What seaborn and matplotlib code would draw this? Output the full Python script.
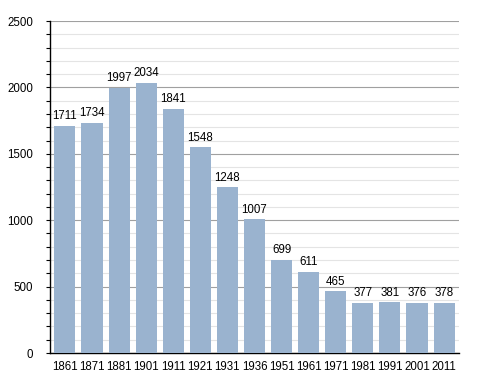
import pandas as pd
import numpy as np
import seaborn as sns
import matplotlib.pyplot as plt
from matplotlib.ticker import MultipleLocator

# datos
years = ['1861', '1871', '1881', '1901', '1911', '1921', '1931', '1936',
         '1951', '1961', '1971', '1981', '1991', '2001', '2011']
population = [1711, 1734, 1997, 2034, 1841, 1548, 1248, 1007,
              699, 611, 465, 377, 381, 376, 378]

df = pd.DataFrame({'year': years, 'pop': population})

sns.set_style('white')
plt.rcParams['font.family'] = ['Liberation Sans', 'DejaVu Sans']
plt.rcParams['text.color'] = 'black'
plt.rcParams['xtick.color'] = 'black'
plt.rcParams['ytick.color'] = 'black'

fig = plt.figure(figsize=(4.88, 3.73), dpi=100)
ax = fig.add_axes([0.1025, 0.0536, 0.838, 0.89])

sns.barplot(data=df, x='year', y='pop', color='#9ab3cf', saturation=1,
            width=0.78, ax=ax, zorder=3, edgecolor='none')

for i, v in enumerate(population):
    ax.text(i, v + 28, str(v), ha='center', va='bottom', fontsize=8.3,
            color='black', zorder=4)

ax.set_ylim(0, 2500)
ax.set_xlim(-0.55, len(years) - 0.45)
ax.yaxis.set_major_locator(MultipleLocator(500))
ax.yaxis.set_minor_locator(MultipleLocator(100))
ax.grid(which='major', axis='y', color='#a0a0a0', linewidth=0.8, zorder=0)
ax.grid(which='minor', axis='y', color='#e4e4e4', linewidth=0.8, zorder=0)
ax.set_axisbelow(True)

for s in ['top', 'right']:
    ax.spines[s].set_visible(False)
ax.spines['left'].set_color('black')
ax.spines['bottom'].set_color('black')
ax.spines['left'].set_linewidth(1.0)
ax.spines['bottom'].set_linewidth(1.0)

ax.tick_params(axis='y', which='both', left=True, direction='out', length=3,
               width=0.8, color='black', labelsize=8.3, pad=9)
ax.tick_params(axis='x', bottom=False, labelsize=8.3, pad=2)
ax.set_xlabel('')
ax.set_ylabel('')

fig.savefig('out.png', dpi=100)
